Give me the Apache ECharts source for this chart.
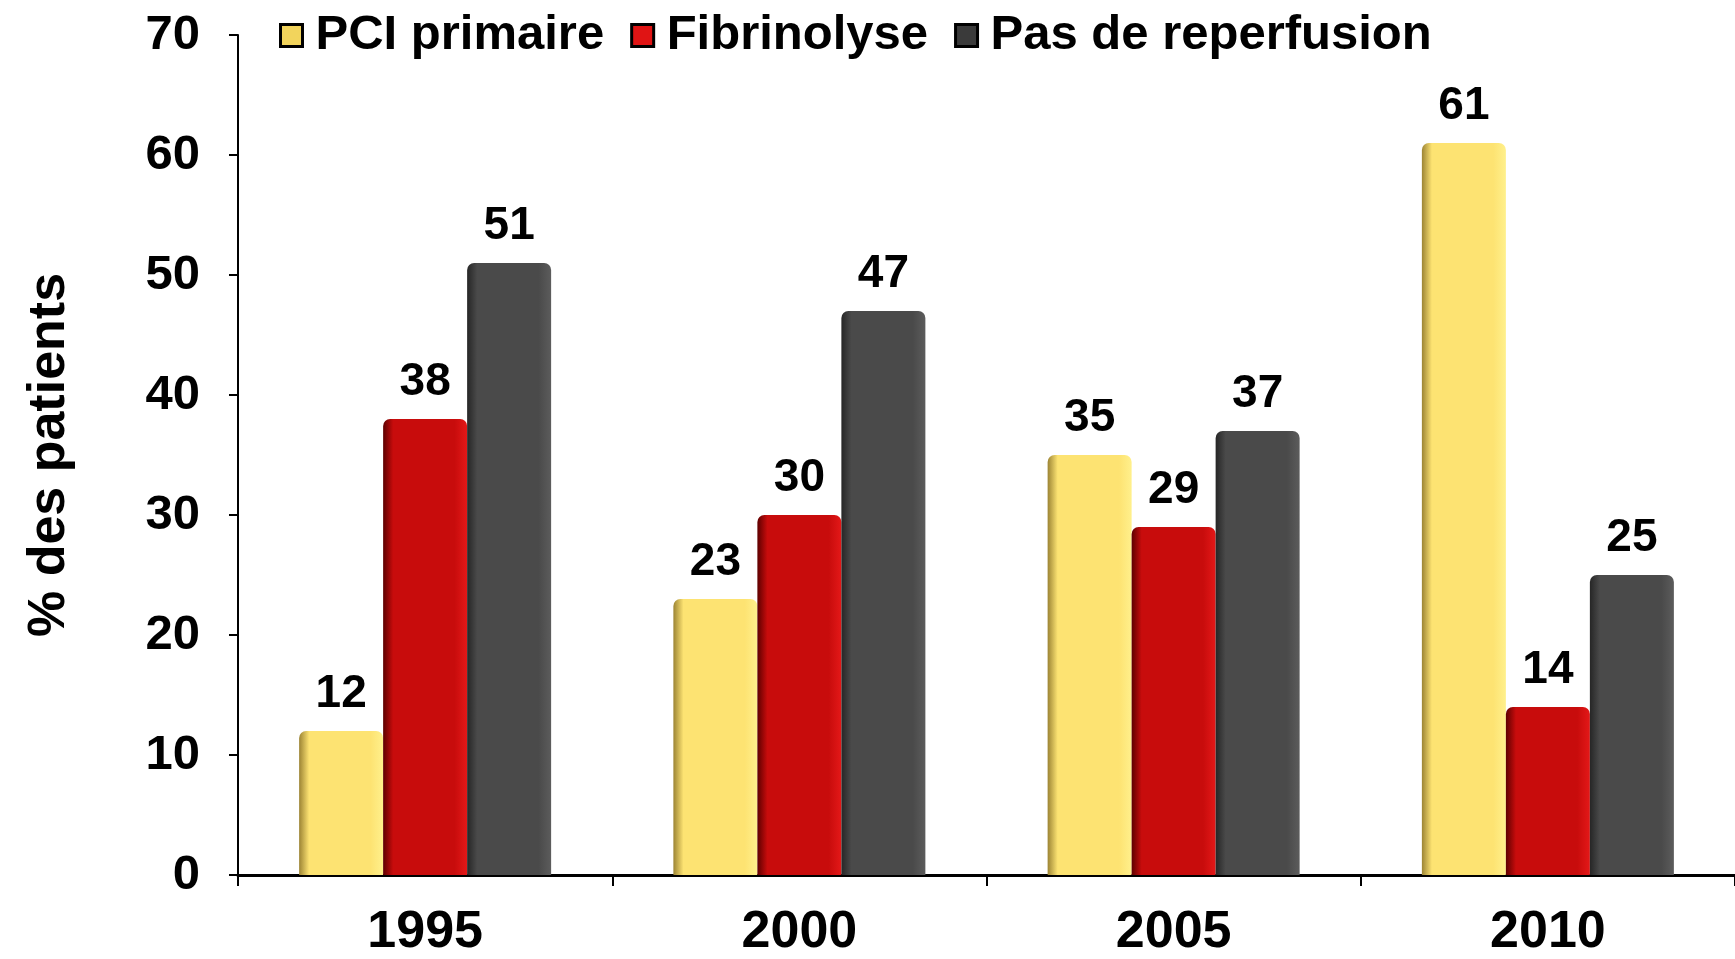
<!DOCTYPE html>
<html>
<head>
<meta charset="utf-8">
<script src="https://cdn.jsdelivr.net/npm/echarts@6/dist/echarts.min.js"></script>
<style>
  html, body { margin: 0; padding: 0; background: #fff; }
  #chart { width: 1735px; height: 959px; }
</style>
</head>
<body>
<div id="chart"></div>
<script>
    var years = ['1995', '2000', '2005', '2010'];
    var pciPrimaire = [12, 23, 35, 61];
    var fibrinolyse = [38, 30, 29, 14];
    var pasReperfusion = [51, 47, 37, 25];
    var yTicks = [0, 10, 20, 30, 40, 50, 60, 70];

    var font = '"Liberation Sans", Arial, sans-serif';

    function shade(left, mid, right) {
        return {
            type: 'linear', x: 0, y: 0, x2: 1, y2: 0,
            colorStops: [
                {offset: 0, color: left},
                {offset: 0.12, color: mid},
                {offset: 0.85, color: mid},
                {offset: 1, color: right}
            ]
        };
    }

    function barSeries(name, data, fill) {
        return {
            name: name,
            type: 'bar',
            data: data,
            barWidth: 84,
            barGap: '0%',
            itemStyle: {color: fill, borderRadius: [7, 7, 0, 0]},
            label: {
                show: true,
                position: 'top',
                distance: 14,
                color: '#000',
                fontFamily: font,
                fontWeight: 'bold',
                fontSize: 46
            }
        };
    }

    var chart = echarts.init(document.getElementById('chart'));
    chart.setOption({
        animation: false,
        legend: {
            left: 274,
            top: 6,
            itemWidth: 22,
            itemHeight: 22,
            itemGap: 26,
            textStyle: {fontFamily: font, fontWeight: 'bold', fontSize: 49, color: '#000', padding: [0, 0, 0, 8]},
            itemStyle: {borderColor: '#000', borderWidth: 3},
            data: [
                {name: 'PCI primaire', icon: 'rect', itemStyle: {color: '#F2D45C'}},
                {name: 'Fibrinolyse', icon: 'rect', itemStyle: {color: '#E01414'}},
                {name: 'Pas de reperfusion', icon: 'rect', itemStyle: {color: '#3a3a3a'}}
            ]
        },
        grid: {left: 238, right: -18, top: 35, bottom: 80},
        xAxis: {
            type: 'category',
            data: years,
            axisLine: {lineStyle: {color: '#000', width: 3}},
            axisTick: {show: true, length: 11, lineStyle: {color: '#000', width: 2}},
            axisLabel: {
                color: '#000', fontFamily: font, fontWeight: 'bold', fontSize: 52, margin: 32
            }
        },
        yAxis: {
            type: 'value',
            min: yTicks[0],
            max: yTicks[yTicks.length - 1],
            interval: 10,
            name: '% des patients',
            nameLocation: 'middle',
            nameGap: 162,
            nameTextStyle: {color: '#000', fontFamily: font, fontWeight: 'bold', fontSize: 52},
            axisLine: {show: true, lineStyle: {color: '#000', width: 2}},
            axisTick: {show: true, length: 9, lineStyle: {color: '#000', width: 2}},
            splitLine: {show: false},
            axisLabel: {
                color: '#000', fontFamily: font, fontWeight: 'bold', fontSize: 49, margin: 38
            }
        },
        series: [
            barSeries('PCI primaire', pciPrimaire, shade('#9c8434', '#FDE372', '#FFF08C')),
            barSeries('Fibrinolyse', fibrinolyse, shade('#5e0000', '#C80C0C', '#E41818')),
            barSeries('Pas de reperfusion', pasReperfusion, shade('#262626', '#4a4a4a', '#5c5c5c'))
        ]
    });
</script>
</body>
</html>
